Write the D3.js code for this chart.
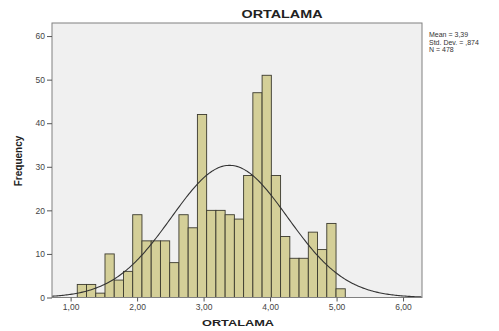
<!DOCTYPE html>
<html>
<head>
<meta charset="utf-8">
<script src="https://cdn.jsdelivr.net/npm/d3@7"></script>
<style>
  html, body { margin: 0; padding: 0; background: #fff; }
  svg { display: block; font-family: "Liberation Sans", Arial, sans-serif; }
</style>
</head>
<body>
<div id="chart"></div>
<script>
// Histogramme ORTALAMA (style SPSS) avec courbe normale

// --- Données ---
const counts = [3, 3, 1, 10, 4, 6, 19, 13, 13, 13, 8, 19, 16, 42, 20, 20, 19, 18, 28, 47, 51, 28, 14, 9, 9, 15, 11, 17, 2];
const binStart = 1.10;
const binWidth = 0.139;
const xTicks = [1, 2, 3, 4, 5, 6];
const yTicks = [0, 10, 20, 30, 40, 50, 60];
const mean = 3.39;
const stdDev = 0.874;
const nObs = 478;
const legendLines = ['Mean = 3,39', 'Std. Dev. = ,874', 'N = 478'];

const W = 499, H = 331;
const plot = { left: 52, right: 422, top: 23, bottom: 297.5 };

const svg = d3.select('#chart').append('svg')
    .attr('width', W)
    .attr('height', H);

// Échelles
const x = d3.scaleLinear().domain([0.72, 6.285]).range([plot.left, plot.right]);
const y = d3.scaleLinear().domain([0, 63]).range([plot.bottom, plot.top]);

// Fond de la zone de tracé
svg.append('rect')
    .attr('x', plot.left)
    .attr('y', plot.top)
    .attr('width', plot.right - plot.left)
    .attr('height', plot.bottom - plot.top)
    .attr('fill', '#f0f0f0');

// Barres
const bins = counts.map((c, i) => ({ x0: binStart + i * binWidth, x1: binStart + (i + 1) * binWidth, c }));
svg.append('g')
    .selectAll('rect')
    .data(bins)
    .join('rect')
    .attr('x', d => x(d.x0))
    .attr('y', d => y(d.c))
    .attr('width', d => x(d.x1) - x(d.x0))
    .attr('height', d => y(0) - y(d.c))
    .attr('fill', '#d4cf98')
    .attr('stroke', '#3b3a2e')
    .attr('stroke-width', 0.9);

// Courbe normale
const k = nObs * binWidth / (stdDev * Math.sqrt(2 * Math.PI));
const curve = d3.range(0.72, 6.29, 0.02).map(v => [v, k * Math.exp(-0.5 * ((v - mean) / stdDev) ** 2)]);
svg.append('path')
    .datum(curve)
    .attr('fill', 'none')
    .attr('stroke', '#333')
    .attr('stroke-width', 1.1)
    .attr('d', d3.line().x(d => x(d[0])).y(d => y(d[1])));

// Cadre
svg.append('rect')
    .attr('x', plot.left)
    .attr('y', plot.top)
    .attr('width', plot.right - plot.left)
    .attr('height', plot.bottom - plot.top)
    .attr('fill', 'none')
    .attr('stroke', '#808080')
    .attr('stroke-width', 1);

// Axes
const fmt = d => d3.format('.2f')(d).replace('.', ',');

const xAxis = svg.append('g')
    .attr('transform', `translate(0,${plot.bottom})`)
    .call(d3.axisBottom(x).tickValues(xTicks).tickFormat(fmt).tickSize(4).tickPadding(2));
xAxis.select('.domain').remove();

const yAxis = svg.append('g')
    .attr('transform', `translate(${plot.left},0)`)
    .call(d3.axisLeft(y).tickValues(yTicks).tickSize(5).tickPadding(2));
yAxis.select('.domain').remove();

svg.selectAll('.tick line').attr('stroke', '#555');
svg.selectAll('.tick text')
    .attr('fill', '#444')
    .style('font-size', '8.5px')
    .style('font-family', '"Liberation Sans", Arial, sans-serif');

// Titres
svg.append('text')
    .attr('x', 282)
    .attr('y', 17.5)
    .attr('text-anchor', 'middle')
    .attr('textLength', 81)
    .attr('lengthAdjust', 'spacingAndGlyphs')
    .style('font-size', '10.5px')
    .style('font-weight', '700')
    .style('fill', '#222')
    .text('ORTALAMA');

svg.append('text')
    .attr('x', 238)
    .attr('y', 326)
    .attr('text-anchor', 'middle')
    .attr('textLength', 72)
    .attr('lengthAdjust', 'spacingAndGlyphs')
    .style('font-size', '9.5px')
    .style('font-weight', '700')
    .style('fill', '#222')
    .text('ORTALAMA');

svg.append('text')
    .attr('transform', 'translate(22,161) rotate(-90)')
    .attr('text-anchor', 'middle')
    .style('font-size', '10px')
    .style('font-weight', '700')
    .style('fill', '#222')
    .text('Frequency');

// Statistiques
svg.append('g')
    .selectAll('text')
    .data(legendLines)
    .join('text')
    .attr('x', 429)
    .attr('y', (d, i) => 37 + i * 7.5)
    .style('font-size', '7px')
    .style('fill', '#333')
    .text(d => d);
</script>
</body>
</html>
